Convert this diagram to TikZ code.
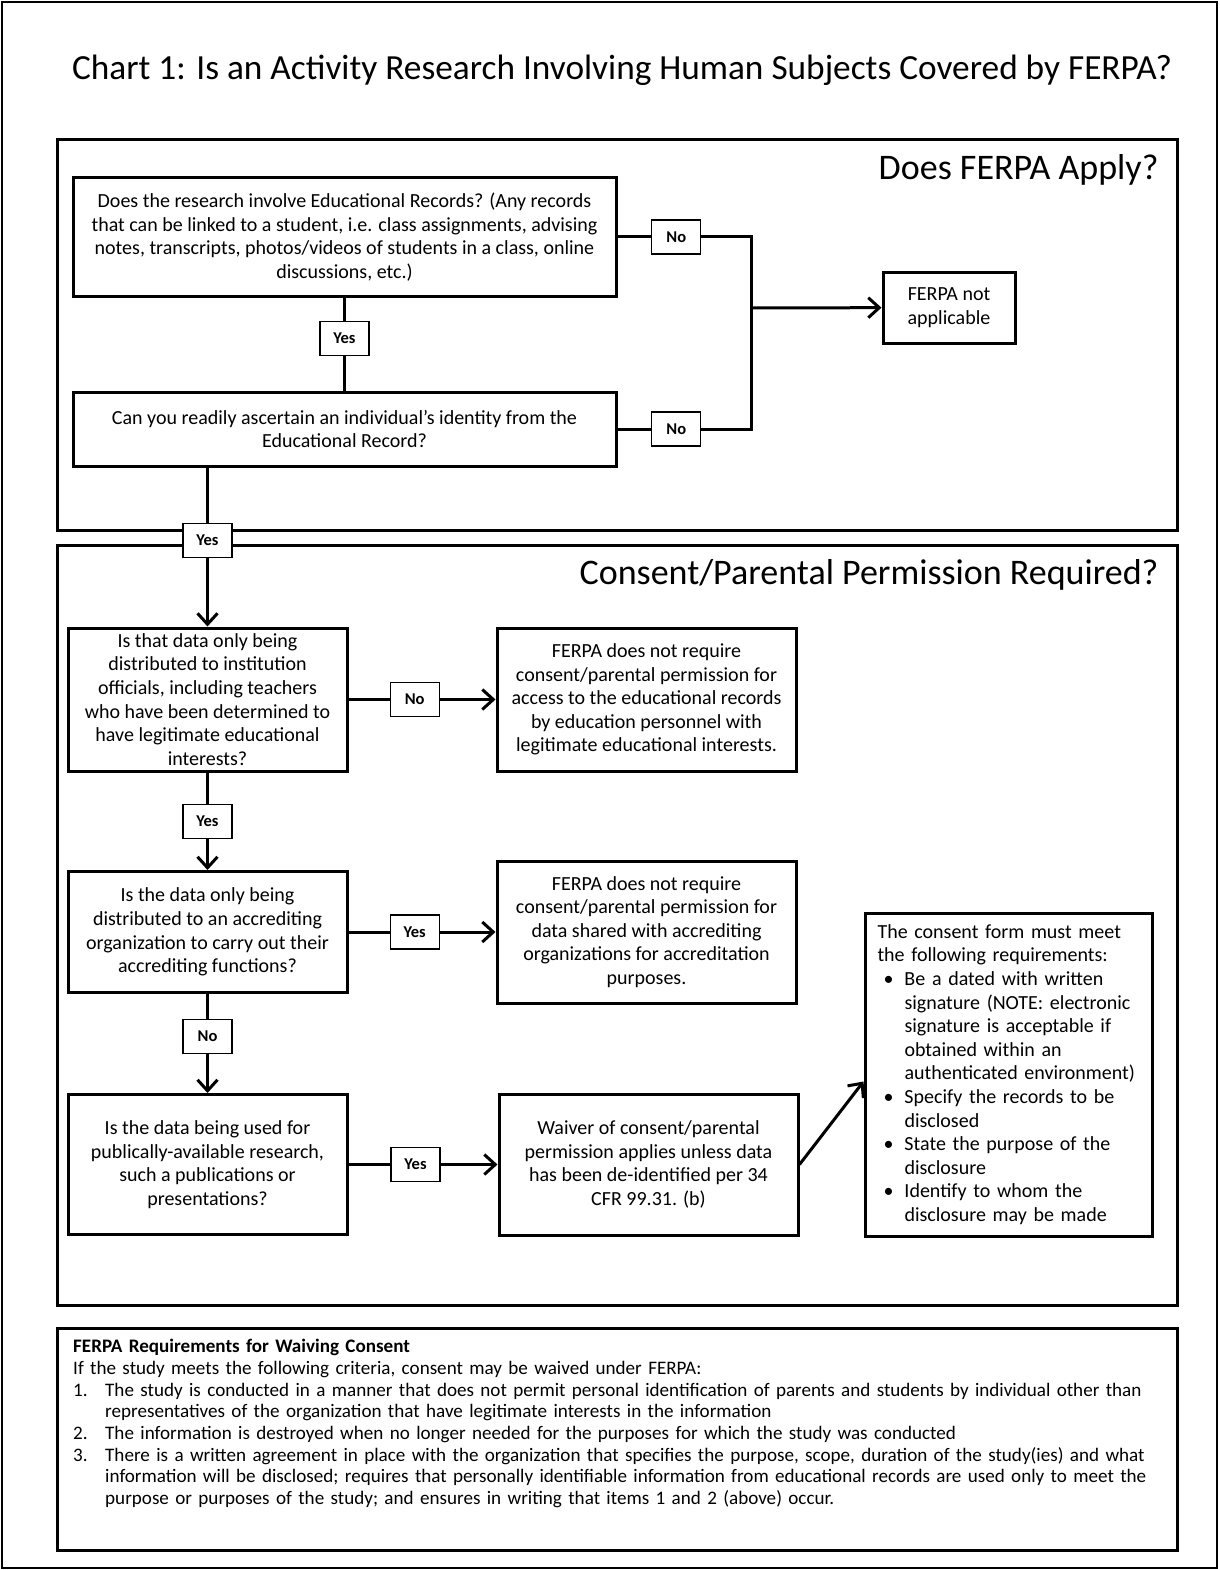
\documentclass[tikz,border=0pt]{standalone}
\usepackage{fontspec}
\setmainfont{Carlito}
\usetikzlibrary{arrows,arrows.meta}

% hanging list lines for the boxes
\newcommand{\numline}[2]{\par\hangindent=32pt\hangafter=1\noindent\makebox[32pt][l]{#1}#2}
\newcommand{\bulline}[1]{\par\hangindent=27pt\hangafter=1\noindent\makebox[27pt][l]{\hspace{6pt}\textbullet}#1}

\begin{document}
\begin{tikzpicture}[x=1pt,y=-1pt,
    >={Straight Barb[length=11pt,width=20pt]},
    box/.style={draw, line width=3pt, align=center, inner sep=4pt,
        font=\fontsize{20}{23.6}\selectfont},
    lbl/.style={draw, line width=1.2pt, fill=white, inner sep=2pt,
        minimum width=49pt, minimum height=34pt,
        font=\bfseries\fontsize{16.5}{19}\selectfont},
    link/.style={line width=3pt},
    frame/.style={line width=3pt},
    head/.style={anchor=east, font=\fontsize{36}{42}\selectfont}]
    \useasboundingbox (0,0) rectangle (1219,1570);
    \draw[line width=2.5pt] (2,2) rectangle (1217,1568);

    \node[font=\fontsize{35.3}{42}\selectfont] (title) at (622,70)
        {Chart 1: Is an Activity Research Involving Human Subjects Covered by FERPA?};

    % the three frames
    \draw[frame] (57,140) rectangle (1177,530);
    \draw[frame] (57,545) rectangle (1177,1305);
    \draw[frame] (57,1328) rectangle (1177,1550);
    \node[head] (apply) at (1162,170) {Does FERPA Apply?};
    \node[head] (consent) at (1162,575) {Consent/Parental Permission Required?};

    % does FERPA apply
    \node[box, minimum width=543pt, minimum height=118pt] (A) at (344.5,237)
        {Does the research involve Educational Records? (Any records\\
         that can be linked to a student, i.e. class assignments, advising\\
         notes, transcripts, photos/videos of students in a class, online\\
         discussions, etc.)};
    \node[box, minimum width=543pt, minimum height=74pt] (B) at (344.5,429)
        {Can you readily ascertain an individual’s identity from the\\
         Educational Record?};
    \node[box, minimum width=132pt, minimum height=71pt] (NA) at (949,307.5)
        {FERPA not\\ applicable};
    \coordinate (J) at (751,308);

    % consent required
    \node[box, minimum width=279pt, minimum height=143pt] (Q1) at (207.5,699.5)
        {Is that data only being\\ distributed to institution\\
         officials, including teachers\\ who have been determined to\\
         have legitimate educational\\ interests?};
    \node[box, minimum width=299pt, minimum height=143pt] (R1) at (646.5,699.5)
        {FERPA does not require\\ consent/parental permission for\\
         access to the educational records\\ by education personnel with\\
         legitimate educational interests.};
    \node[box, minimum width=279pt, minimum height=121pt] (Q2) at (207.5,932)
        {Is the data only being\\ distributed to an accrediting\\
         organization to carry out their\\ accrediting functions?};
    \node[box, minimum width=299pt, minimum height=142pt] (R2) at (646.5,932)
        {FERPA does not require\\ consent/parental permission for\\
         data shared with accrediting\\ organizations for accreditation\\
         purposes.};
    \node[box, minimum width=279pt, minimum height=140pt] (Q3) at (207.5,1164.5)
        {Is the data being used for\\ publically-available research,\\
         such a publications or\\ presentations?};
    \node[box, minimum width=299pt, minimum height=141pt] (R3) at (648.5,1164.5)
        {Waiver of consent/parental\\ permission applies unless data\\
         has been de-identified per 34\\ CFR 99.31. (b)};
    \node[box, align=left, text width=262pt, minimum width=287pt, minimum height=323pt] (C) at (1008.5,1074.5)
        {The consent form must meet\newline the following requirements:
         \bulline{Be a dated with written\newline signature (NOTE: electronic\newline
            signature is acceptable if\newline obtained within an\newline
            authenticated environment)}
         \bulline{Specify the records to be\newline disclosed}
         \bulline{State the purpose of the\newline disclosure}
         \bulline{Identify to whom the\newline disclosure may be made}\par};

    % waiving consent
    \node[anchor=north west, align=left, text width=1095pt, inner sep=0pt,
          font=\fontsize{19.1}{21.7}\selectfont] (waive) at (73,1339)
        {\textbf{FERPA Requirements for Waiving Consent}\newline
         If the study meets the following criteria, consent may be waived under FERPA:
         \numline{1.}{The study is conducted in a manner that does not permit personal identification of parents and students by individual other than\newline
            representatives of the organization that have legitimate interests in the information}
         \numline{2.}{The information is destroyed when no longer needed for the purposes for which the study was conducted}
         \numline{3.}{There is a written agreement in place with the organization that specifies the purpose, scope, duration of the study(ies) and what\newline
            information will be disclosed; requires that personally identifiable information from educational records are used only to meet the\newline
            purpose or purposes of the study; and ensures in writing that items 1 and 2 (above) occur.}\par};

    % connectors
    \draw[link] (A) -- node[lbl, pos=0.44] {Yes} (B);
    \draw[link] (A.east) -| (J) node[lbl, pos=0.22] {No};
    \draw[link] (B.east) -| (J) node[lbl, pos=0.22] {No};
    \draw[link, ->] (J) -- (NA);
    \draw[link, ->] (B.south -| Q1.north) -- node[lbl, pos=0.46] {Yes} (Q1.north);
    \draw[link, ->] (Q1) -- node[lbl, pos=0.45] {No} (R1);
    \draw[link, ->] (Q1) -- node[lbl] {Yes} (Q2);
    \draw[link, ->] (Q2) -- node[lbl, pos=0.45] {Yes} (R2);
    \draw[link, ->] (Q2) -- node[lbl, pos=0.43] {No} (Q3);
    \draw[link, ->] (Q3) -- node[lbl, pos=0.45] {Yes} (R3);
    \draw[link, ->] (R3.east) -- ([yshift=-7pt]C.west);
\end{tikzpicture}
\end{document}
